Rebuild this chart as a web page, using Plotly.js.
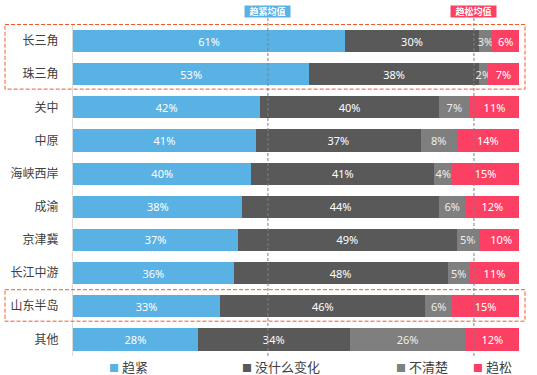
<!DOCTYPE html>
<html><head><meta charset="utf-8">
<script src="https://cdn.plot.ly/plotly-3.0.1.min.js"></script>
<style>html,body{margin:0;padding:0;background:#fff}#chart{width:537px;height:375px}</style>
</head><body><div id="chart"></div>
<script>
const categories = ['长三角','珠三角','关中','中原','海峡西岸','成渝','京津冀','长江中游','山东半岛','其他'];
const seriesNames = ['趋紧','没什么变化','不清楚','趋松'];
const tight    = [61,53,42,41,40,38,37,36,33,28];
const noChange = [30,38,40,37,41,44,49,48,46,34];
const unclear  = [3,2,7,8,4,6,5,5,6,26];
const loose    = [6,7,11,14,15,12,10,11,15,12];
const meanLabels = ['趋紧均值','趋松均值'];
const meanValues = [43.7, 89.9];
const highlighted = [['长三角','珠三角'],['山东半岛']];

const colors = ['#5AB1E3','#595959','#7F7F7F','#FC4064'];
const meanColors = ['#5AB1E3','#FC4064'];
const allSeries = [tight, noChange, unclear, loose];

const traces = allSeries.map((vals,i)=>({
  type:'bar', orientation:'h', name:seriesNames[i],
  y:categories, x:vals,
  marker:{color:colors[i]},
  text:vals.map(v=>v+'%'), textposition:'inside', insidetextanchor:'middle',
  textangle:0, constraintext:'none',
  textfont:{family:'Noto Sans, DejaVu Sans, sans-serif', size:11, color: i===2?'#EDEDED':'#FFFFFF'},
  hoverinfo:'skip', showlegend:false
}));

const L = 73, W = 446, T = 24, B = 19, H = 375 - T - B;
const px = p => (p - L)/W;
const py = p => (375 - B - p)/H;
const shapes = [];
const annotations = [];
meanValues.forEach((v,i)=>{
  shapes.push({type:'line', xref:'x', yref:'paper', x0:v, x1:v, y0:0, y1:py(18),
    line:{color:'#7F7F7F', width:1, dash:'3px,2px'}, layer:'above'});
  annotations.push({xref:'x', yref:'paper', x:v, y:py(11.5), yanchor:'middle',
    text:'<b>'+meanLabels[i]+'</b>', showarrow:false, bgcolor:meanColors[i],
    font:{family:'Noto Sans CJK SC', size:9, color:'#FFFFFF'}, borderpad:0, height:11, width:45});
});
highlighted.forEach(group=>{
  const i0 = categories.indexOf(group[0]);
  const i1 = categories.indexOf(group[group.length-1]);
  shapes.push({type:'rect', xref:'paper', yref:'y', x0:px(5), x1:px(525),
    y0:i0-0.5, y1:i1+0.45, line:{color:'#F05A28', width:1, dash:'4px,2px'}, fillcolor:'rgba(0,0,0,0)', layer:'above'});
});
const legendX = [108, 241, 395, 472];
seriesNames.forEach((n,i)=>{
  annotations.push({xref:'paper', yref:'paper', x:px(legendX[i]), xanchor:'left', y:py(366), yanchor:'middle',
    text:'<span style="color:'+colors[i]+';font-size:10px">■</span> '+n, showarrow:false,
    font:{family:'Noto Sans CJK SC', size:13, color:'#404040'}, borderpad:0});
});

const layout = {
  width:537, height:375,
  margin:{l:L, r:537-L-W, t:T, b:B},
  barmode:'stack', bargap:0.33,
  paper_bgcolor:'#FFFFFF', plot_bgcolor:'#FFFFFF',
  xaxis:{range:[0,100], showgrid:false, zeroline:false, showticklabels:false, showline:false, fixedrange:true},
  yaxis:{type:'category', autorange:'reversed', showgrid:false, zeroline:false,
    showline:true, linecolor:'#D9D9D9', linewidth:1, ticks:'', ticklabelstandoff:11,
    tickfont:{family:'Noto Sans CJK SC', size:12, color:'#404040'}, fixedrange:true},
  shapes, annotations, showlegend:false
};
Plotly.newPlot('chart', traces, layout, {displayModeBar:false, staticPlot:true});
</script></body></html>
